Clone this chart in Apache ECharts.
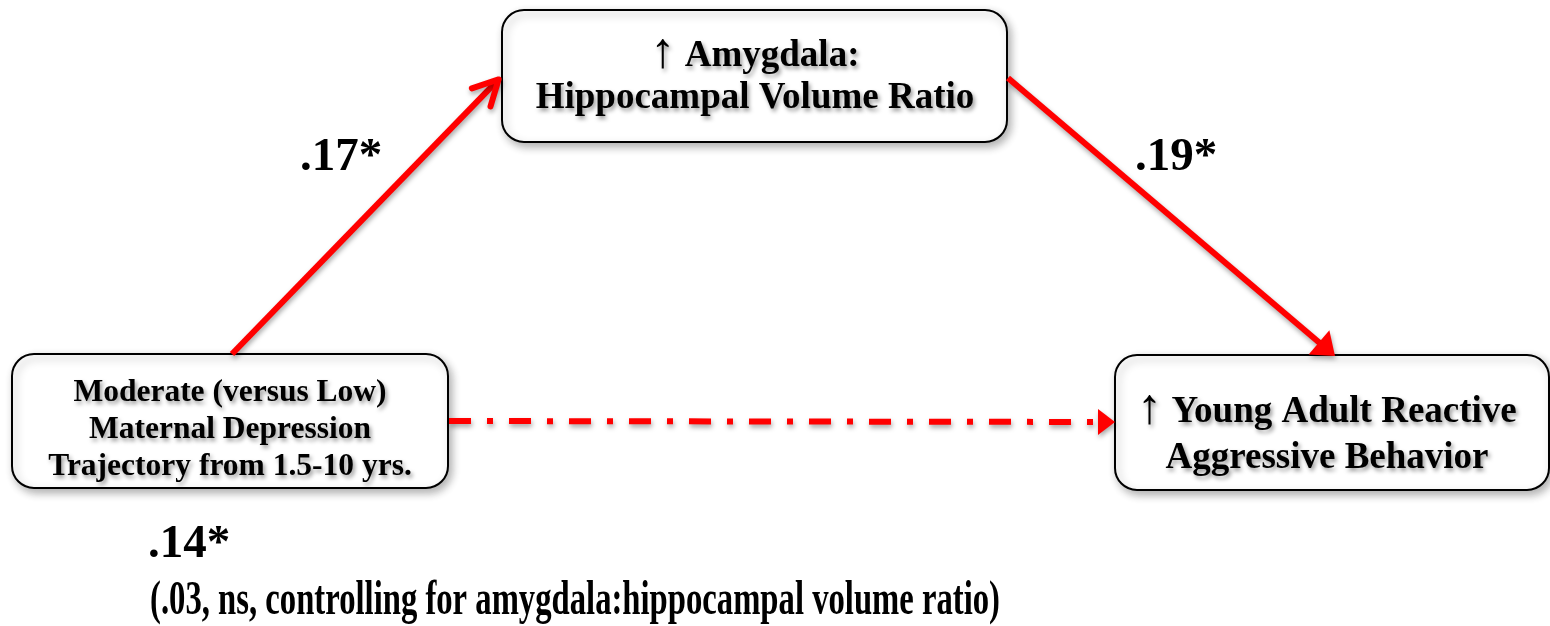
<!DOCTYPE html>
<html><head><meta charset="utf-8">
<script src="https://cdn.jsdelivr.net/npm/echarts@6/dist/echarts.min.js"></script>
<style>html,body{margin:0;padding:0;background:#fff}#chart{width:1550px;height:626px}</style>
</head><body><div id="chart"></div>
<script>
// ---- diagram content ----
const nodeNames = [
  '↑ Amygdala:\nHippocampal Volume Ratio',
  'Moderate (versus Low)\nMaternal Depression\nTrajectory from 1.5-10 yrs.',
  '↑ Young Adult Reactive\nAggressive Behavior'
];
const pathFrom = [1, 0, 1];
const pathTo = [0, 2, 2];
const pathCoefficients = ['.17*', '.19*', '.14*'];
const directEffectNote = '(.03, ns, controlling for amygdala:hippocampal volume ratio)';

// ---- layout (diagram coordinate space, mapped through hidden axes) ----
const nodeBoxes = [[502, 10, 1007, 142], [12, 354, 448, 488], [1115, 355, 1549, 490]];
const nodeText = [
  { cx: 755, cy: 77, size: 37, lh: 42 },
  { cx: 230, cy: 430, size: 31.5, lh: 37 },
  { cx: 1327, cy: 435, size: 37, lh: 46 }
];
const edgeGeom = [
  { from: [232, 354], to: [500, 78], head: 'open', dash: false },
  { from: [1008, 78], to: [1335, 356], head: 'filled', dash: false },
  { from: [449, 421], to: [1115, 422], head: 'filled', dash: true }
];
const labelPos = [
  { x: 341, y: 158, align: 'center' },
  { x: 1176, y: 158, align: 'center' },
  { x: 148, y: 545, align: 'left' }
];
const notePos = { x: 150, y: 602, width: 850 };

const FONT = '"Liberation Serif", "Times New Roman", serif';
const RED = '#ff0000';

function measure(text, size) {
  const c = document.createElement('canvas').getContext('2d');
  c.font = 'bold ' + size + 'px ' + FONT;
  return c.measureText(text).width;
}

function renderNode(params, api) {
  const i = params.dataIndex;
  const b = nodeBoxes[i];
  const p0 = api.coord([b[0], b[1]]);
  const p1 = api.coord([b[2], b[3]]);
  const t = nodeText[i];
  const c = api.coord([t.cx, t.cy]);
  const shadowText = { textShadowColor: 'rgba(0,0,0,0.4)', textShadowBlur: 4, textShadowOffsetX: 2, textShadowOffsetY: 3 };
  return {
    type: 'group',
    children: [
      {
        type: 'rect',
        shape: { x: p0[0], y: p0[1], width: p1[0] - p0[0], height: p1[1] - p0[1], r: 22 },
        style: { fill: '#fff', stroke: '#000', lineWidth: 2,
          shadowColor: 'rgba(0,0,0,0.3)', shadowBlur: 9, shadowOffsetX: 3, shadowOffsetY: 4 }
      },
      {
        type: 'text',
        x: c[0], y: c[1],
        style: Object.assign({
          text: nodeNames[i].replace('↑', '{up|↑}'), fill: '#000', fontFamily: FONT, fontWeight: 'bold', fontSize: t.size,
          lineHeight: t.lh, align: 'center', verticalAlign: 'middle',
          rich: { up: Object.assign({ fontFamily: FONT, fontWeight: 'normal', fontSize: t.size * 1.35, lineHeight: t.lh, fill: '#000',
            padding: [0, 0, 4, 0] }, shadowText) }
        }, shadowText)
      }
    ]
  };
}

function renderEdge(params, api) {
  const i = params.dataIndex;
  const g = edgeGeom[i];
  const a = api.coord(g.from), b = api.coord(g.to);
  const dx = b[0] - a[0], dy = b[1] - a[1], len = Math.hypot(dx, dy);
  const ux = dx / len, uy = dy / len, nx = -uy, ny = ux;
  const sh = { shadowColor: 'rgba(0,0,0,0.35)', shadowBlur: 5, shadowOffsetX: 1, shadowOffsetY: 3 };
  const children = [];
  if (g.head === 'open') {
    const tip = [b[0] - ux * 2, b[1] - uy * 2];
    const La = 25, Ln = 13;
    const back = [tip[0] - ux * La, tip[1] - uy * La];
    children.push({ type: 'line', shape: { x1: a[0], y1: a[1], x2: tip[0] - ux * 2, y2: tip[1] - uy * 2 },
      style: Object.assign({ stroke: RED, lineWidth: 6 }, sh) });
    children.push({ type: 'polyline',
      shape: { points: [[back[0] + nx * Ln, back[1] + ny * Ln], tip, [back[0] - nx * Ln, back[1] - ny * Ln]] },
      style: Object.assign({ stroke: RED, lineWidth: 6, lineCap: 'round', lineJoin: 'round', fill: null }, sh) });
  } else {
    const L = g.dash ? 17 : 21, W = g.dash ? 13 : 16;
    const base = [b[0] - ux * L, b[1] - uy * L];
    children.push({ type: 'line', shape: { x1: a[0], y1: a[1], x2: base[0] + ux * 1, y2: base[1] + uy * 1 },
      style: Object.assign({ stroke: RED, lineWidth: 6, lineDash: g.dash ? [22, 16, 6, 16] : null }, sh) });
    children.push({ type: 'polygon',
      shape: { points: [b, [base[0] + nx * W, base[1] + ny * W], [base[0] - nx * W, base[1] - ny * W]] },
      style: Object.assign({ fill: RED }, sh) });
  }
  return { type: 'group', children };
}

function renderLabel(params, api) {
  const i = params.dataIndex;
  const p = labelPos[i];
  const c = api.coord([p.x, p.y]);
  return { type: 'text', x: c[0], y: c[1],
    style: { text: pathCoefficients[i], fill: '#000', fontFamily: FONT, fontWeight: 'bold', fontSize: 47,
      align: p.align, verticalAlign: 'middle' } };
}

function renderNote(params, api) {
  const c = api.coord([notePos.x, notePos.y]);
  const w = measure(directEffectNote, 48);
  return { type: 'text', x: c[0], y: c[1], originX: 0, originY: 0, scaleX: notePos.width / w,
    style: { text: directEffectNote, fill: '#000', fontFamily: FONT, fontWeight: 'bold', fontSize: 48,
      align: 'left', verticalAlign: 'middle' } };
}

const chart = echarts.init(document.getElementById('chart'), null, { renderer: 'canvas' });
chart.setOption({
  animation: false,
  backgroundColor: '#fff',
  grid: { left: 0, top: 0, width: 1550, height: 626 },
  xAxis: { type: 'value', min: 0, max: 1550, show: false },
  yAxis: { type: 'value', min: 0, max: 626, inverse: true, show: false },
  series: [
    { type: 'custom', name: 'nodes', silent: true, renderItem: renderNode,
      data: nodeNames.map((n, i) => ({ name: n, value: [i, i] })) },
    { type: 'custom', name: 'paths', silent: true, renderItem: renderEdge,
      data: pathCoefficients.map((c, i) => ({ name: nodeNames[pathFrom[i]] + ' -> ' + nodeNames[pathTo[i]], value: [i, i] })) },
    { type: 'custom', name: 'coefficients', silent: true, renderItem: renderLabel,
      data: pathCoefficients.map((c, i) => ({ name: c, value: [i, i] })) },
    { type: 'custom', name: 'note', silent: true, renderItem: renderNote,
      data: [{ name: directEffectNote, value: [0, 0] }] }
  ]
});
</script></body></html>
